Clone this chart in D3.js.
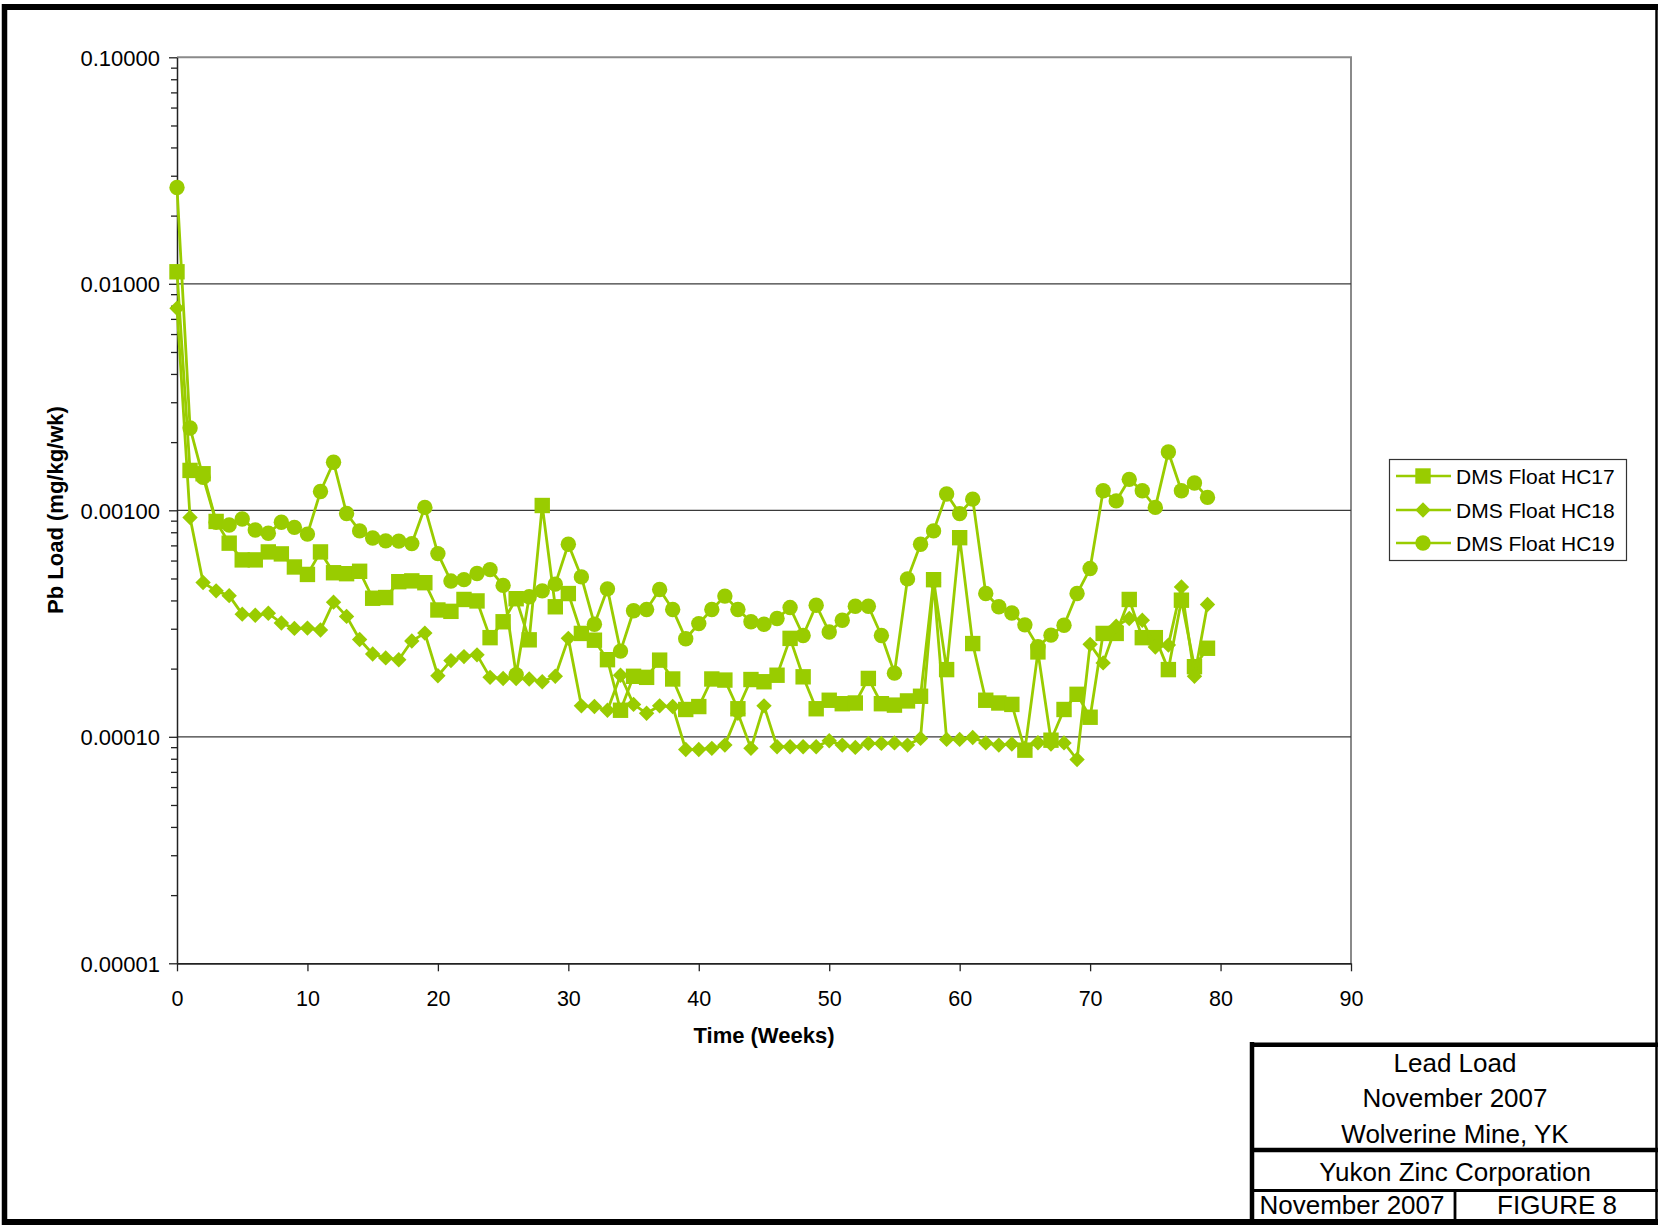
<!DOCTYPE html>
<html><head><meta charset="utf-8">
<script src="https://cdn.jsdelivr.net/npm/d3@7/dist/d3.min.js"></script>
<style>
body{margin:0;background:#fff}
svg{display:block}
text{font-family:"Liberation Sans",Arial,Helvetica,sans-serif;fill:#000}
</style>
</head><body>
<svg id="c" width="1658" height="1225"></svg>
<script>
const weeks = [0,1,2,3,4,5,6,7,8,9,10,11,12,13,14,15,16,17,18,19,
20,21,22,23,24,25,26,27,28,29,30,31,32,33,34,35,36,37,38,39,
40,41,42,43,44,45,46,47,48,49,50,51,52,53,54,55,56,57,58,59,
60,61,62,63,64,65,66,67,68,69,70,71,72,73,74,75,76,77,78,79];

const hc17 = [0.0113,0.0015,0.00145,0.000893,0.000716,0.000604,0.000604,0.000655,0.000642,0.000562,
0.000521,0.000655,0.00053,0.000525,0.000538,0.000409,0.000412,0.000484,0.000488,0.000479,
0.000363,0.000358,0.000404,0.000398,0.000274,0.000322,0.000407,0.000268,0.00105,0.000375,
0.000429,0.000286,0.000267,0.000219,0.000131,0.000185,0.000183,0.000218,0.00018,0.000132,
0.000136,0.00018,0.000178,0.000133,0.000179,0.000175,0.000187,0.000272,0.000184,0.000133,
0.000145,0.00014,0.000141,0.000181,0.00014,0.000138,0.000144,0.000151,0.000494,0.000198,
0.000757,0.000258,0.000145,0.000141,0.000139,0.0000873,0.000237,0.0000966,0.000132,0.000154,
0.000122,0.000286,0.000286,0.000404,0.000274,0.000274,0.000198,0.000401,0.000204,0.000246];

const hc18 = [0.0078,0.00093,0.00048,0.000441,0.00042,0.000348,0.000344,0.000351,0.000318,0.000301,
0.000302,0.000296,0.000393,0.00034,0.000269,0.000232,0.000223,0.000219,0.000265,0.000287,
0.000186,0.000217,0.000226,0.00023,0.000183,0.000181,0.000181,0.00018,0.000175,0.000185,
0.000272,0.000137,0.000136,0.000131,0.000187,0.000139,0.000127,0.000137,0.000136,0.0000879,
0.0000879,0.0000889,0.0000919,0.000127,0.0000889,0.000137,0.0000904,0.0000904,0.0000904,0.0000904,
0.000096,0.0000919,0.0000898,0.0000935,0.0000935,0.000094,0.0000919,0.0000984,0.00048,0.0000974,
0.0000974,0.0000993,0.000094,0.0000919,0.0000929,0.000089,0.0000941,0.000093,0.000094,0.0000794,
0.000256,0.000212,0.000308,0.000333,0.000327,0.000249,0.000254,0.000459,0.000185,0.000384];

const hc19 = [0.0266,0.00231,0.0014,0.000886,0.000861,0.000916,0.000818,0.000792,0.000886,0.000841,
0.000785,0.00121,0.00163,0.000968,0.000811,0.000755,0.000733,0.000731,0.000713,0.00103,
0.000644,0.000487,0.000494,0.000526,0.000547,0.000466,0.000188,0.000415,0.000441,0.000472,
0.000708,0.000508,0.000314,0.00045,0.000239,0.00036,0.000365,0.000447,0.000365,0.000271,
0.000316,0.000365,0.000418,0.000365,0.000322,0.000314,0.000333,0.000372,0.00028,0.000381,
0.00029,0.000327,0.000377,0.000377,0.00028,0.000191,0.000498,0.000708,0.000811,0.00118,
0.000967,0.00112,0.000429,0.000375,0.000352,0.000312,0.00025,0.000281,0.000311,0.000429,
0.000553,0.00122,0.0011,0.00137,0.00122,0.00103,0.00181,0.00122,0.00132,0.00114];

const seriesNames = ["DMS Float HC17","DMS Float HC18","DMS Float HC19"];
const seriesMarkers = ["square","diamond","circle"];
const yTickValues = [0.1,0.01,0.001,0.0001,0.00001];
const yTickLabels = ["0.10000","0.01000","0.00100","0.00010","0.00001"];
const xTickValues = [0,10,20,30,40,50,60,70,80,90];
const xTitle = "Time (Weeks)";
const yTitle = "Pb Load (mg/kg/wk)";
const titleBlock = ["Lead Load","November 2007","Wolverine Mine, YK","Yukon Zinc Corporation","November 2007","FIGURE 8"];

const COLOR = "#99CC00";
const svg = d3.select("#c");
const x = d3.scaleLinear().domain([0,90]).range([177,1351]);
const y = d3.scaleLog().domain([1e-5,0.1]).range([963.3,57.3]);

// outer frame
const frame = svg.append("g").attr("stroke","#000");
frame.append("line").attr("x1",2).attr("x2",1658).attr("y1",7).attr("y2",7).attr("stroke-width",6);
frame.append("line").attr("x1",4.5).attr("x2",4.5).attr("y1",4).attr("y2",1225).attr("stroke-width",5.5);
frame.append("line").attr("x1",2).attr("x2",1658).attr("y1",1222).attr("y2",1222).attr("stroke-width",6);
frame.append("line").attr("x1",1656.5).attr("x2",1656.5).attr("y1",4).attr("y2",1225).attr("stroke-width",2.5);

// plot area border (top/right)
svg.append("path").attr("d",`M${x(0)},${y(0.1)}H${x(90)}V${y(1e-5)}`)
  .attr("fill","none").attr("stroke","#8a8a8a").attr("stroke-width",2);

// gridlines
svg.append("g").selectAll("line").data(yTickValues.slice(1,4)).join("line")
  .attr("x1",x(0)).attr("x2",x(90)).attr("y1",d=>y(d)).attr("y2",d=>y(d))
  .attr("stroke","#3a3a3a").attr("stroke-width",1.3);

// minor y ticks
const minor = [];
yTickValues.slice(1).forEach(dec=>{ for(let k=2;k<=9;k++) minor.push(dec*k); });
svg.append("g").attr("transform",`translate(${x(0)},0)`)
  .call(d3.axisLeft(y).tickValues(minor).tickFormat("").tickSize(6).tickSizeOuter(0))
  .call(g=>g.select(".domain").remove())
  .selectAll("line").attr("stroke","#222").attr("stroke-width",1.3);

// y axis
const gy = svg.append("g").attr("transform",`translate(${x(0)},0)`)
  .call(d3.axisLeft(y).tickValues(yTickValues).tickFormat((d,i)=>yTickLabels[i]).tickSize(8).tickPadding(9).tickSizeOuter(0));
gy.select(".domain").attr("stroke","#222").attr("stroke-width",1.5);
gy.selectAll(".tick line").attr("stroke","#222").attr("stroke-width",1.3);
gy.selectAll("text").attr("font-size",22).attr("font-family",null).attr("dy","0.36em");

// x axis
const gx = svg.append("g").attr("transform",`translate(0,${y(1e-5)})`)
  .call(d3.axisBottom(x).tickValues(xTickValues).tickSize(8).tickPadding(19).tickSizeOuter(0));
gx.select(".domain").attr("stroke","#222").attr("stroke-width",1.8);
gx.selectAll(".tick line").attr("stroke","#222").attr("stroke-width",1.3);
gx.selectAll("text").attr("font-size",21.5).attr("font-family",null);

// axis titles
svg.append("text").attr("x",764).attr("y",1043).attr("text-anchor","middle")
  .attr("font-size",22).attr("font-weight","bold").text(xTitle);
svg.append("text").attr("transform","translate(55,510) rotate(-90)").attr("text-anchor","middle")
  .attr("dy","0.36em").attr("font-size",22).attr("font-weight","bold").text(yTitle);

// series
function markerPath(type){
  const r = 7.7;
  if(type==="square") return `M${-r},${-r}H${r}V${r}H${-r}Z`;
  if(type==="diamond") return `M0,${-r}L${r},0L0,${r}L${-r},0Z`;
  return d3.symbol(d3.symbolCircle, Math.PI*r*r)();
}
const allSeries = [hc17,hc18,hc19];
const line = d3.line().x(d=>x(d.w)).y(d=>y(d.v));
allSeries.forEach((vals,si)=>{
  const pts = weeks.map((w,i)=>({w, v: vals[i]})).filter(d=>d.v!=null);
  const g = svg.append("g");
  g.append("path").datum(pts).attr("d",line).attr("fill","none")
    .attr("stroke",COLOR).attr("stroke-width",2.8).attr("stroke-linejoin","round");
  g.selectAll("path.m").data(pts).join("path").attr("class","m")
    .attr("d",markerPath(seriesMarkers[si]))
    .attr("transform",d=>`translate(${x(d.w)},${y(d.v)})`)
    .attr("fill",COLOR);
});

// legend
const lg = svg.append("g");
lg.append("rect").attr("x",1389.5).attr("y",459.5).attr("width",237).attr("height",101)
  .attr("fill","#fff").attr("stroke","#333").attr("stroke-width",1.2);
const legY = [476,510,543];
seriesNames.forEach((n,i)=>{
  lg.append("line").attr("x1",1396).attr("x2",1451).attr("y1",legY[i]).attr("y2",legY[i])
    .attr("stroke",COLOR).attr("stroke-width",2.7);
  lg.append("path").attr("d",markerPath(seriesMarkers[i])).attr("transform",`translate(1423,${legY[i]})`).attr("fill",COLOR);
  lg.append("text").attr("x",1456).attr("y",legY[i]).attr("dy","0.36em").attr("font-size",21).text(n);
});

// title block
const tb = svg.append("g");
tb.append("line").attr("x1",1252).attr("x2",1252).attr("y1",1042).attr("y2",1225).attr("stroke","#000").attr("stroke-width",4.5);
tb.append("line").attr("x1",1250).attr("x2",1658).attr("y1",1044.7).attr("y2",1044.7).attr("stroke","#000").attr("stroke-width",4.5);
tb.append("line").attr("x1",1250).attr("x2",1658).attr("y1",1150).attr("y2",1150).attr("stroke","#000").attr("stroke-width",4.5);
tb.append("line").attr("x1",1250).attr("x2",1658).attr("y1",1190.5).attr("y2",1190.5).attr("stroke","#000").attr("stroke-width",3);
tb.append("line").attr("x1",1455).attr("x2",1455).attr("y1",1190).attr("y2",1222).attr("stroke","#000").attr("stroke-width",2.8);
const tbPos = [[1455,1071.7],[1455,1106.7],[1455,1143],[1455,1181],[1352,1214],[1557,1214]];
titleBlock.forEach((t,i)=>{
  tb.append("text").attr("x",tbPos[i][0]).attr("y",tbPos[i][1]).attr("text-anchor","middle")
    .attr("font-size",26).text(t);
});
</script>
</body></html>
